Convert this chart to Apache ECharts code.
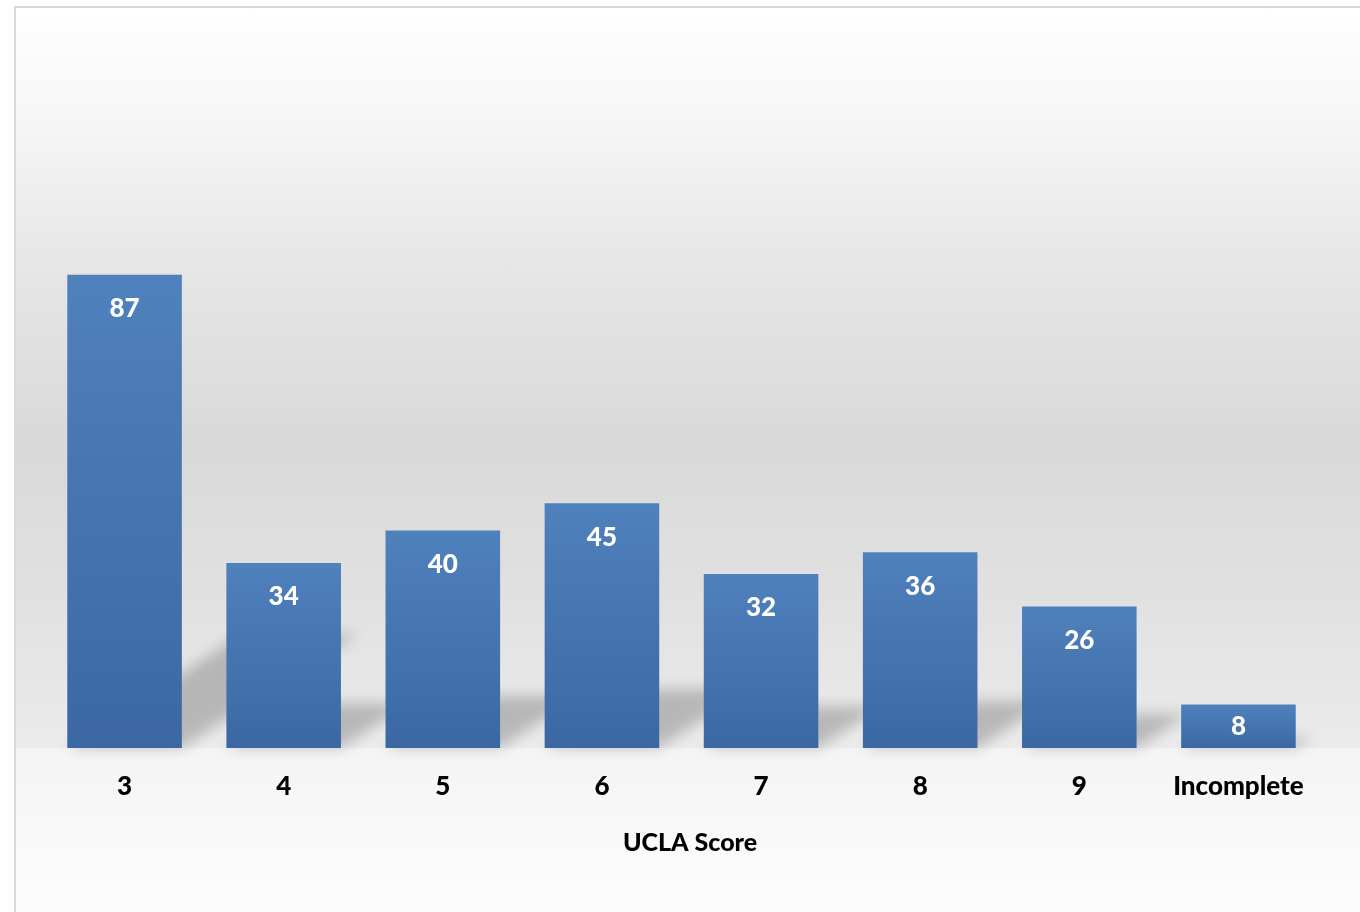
<!DOCTYPE html>
<html>
<head>
<meta charset="utf-8">
<script src="https://cdn.jsdelivr.net/npm/echarts@6/dist/echarts.min.js"></script>
<style>
  html, body { margin: 0; padding: 0; background: #fff; overflow: hidden; }
  #chart {
    position: absolute; left: 14px; top: 6px;
    width: 1346px; height: 906px;
    border-left: 2px solid #d9d9d9; border-top: 2px solid #d9d9d9;
    background: linear-gradient(to bottom,
      #ffffff 0px, #f8f8f8 92px, #e7e7e7 250px, #d9d9d9 432px,
      #e1e1e1 592px, #ebebeb 739px, #f4f4f4 741px, #fdfdfd 906px);
  }
</style>
</head>
<body>
<div id="chart"></div>
<script>
const categories = ['3', '4', '5', '6', '7', '8', '9', 'Incomplete']
const counts     = [87, 34, 40, 45, 32, 36, 26, 8]
const axisTitle  = 'UCLA Score'

const FONT = 'Lato, "Open Sans", sans-serif'
const BAR_SHARE = 0.72

const chart = echarts.init(document.getElementById('chart'), null, { renderer: 'canvas' })

// perspective shadow: the bar's footprint thrown up and to the right behind it
function shadowItem(params, api) {
  const idx = api.value(0)
  const base = api.coord([idx, 0])
  const top = api.coord([idx, api.value(1)])
  const bw = api.size([1, 0])[0] * BAR_SHARE
  const rise = (base[1] - top[1]) * 0.24
  const run = rise / 0.65
  const x0 = base[0] - bw / 2, x1 = base[0] + bw / 2, y0 = base[1]
  const off = 4000
  return {
    type: 'polygon',
    silent: true,
    shape: { points: [[x0 - off, y0], [x1 - off, y0], [x1 + run - off, y0 - rise], [x0 + run - off, y0 - rise]] },
    style: { fill: '#000', shadowBlur: 14, shadowColor: 'rgba(0,0,0,0.21)', shadowOffsetX: off }
  }
}

// short bars get their label centred instead of hung from the top
const barData = counts.map(v => v < 15 ? { value: v, label: { position: 'inside' } } : v)

const textStyle = { fontFamily: FONT, fontWeight: 900, fontSize: 26 }

chart.setOption({
  backgroundColor: 'transparent',
  animation: false,
  grid: { left: 29, right: 44, top: 196, bottom: 166 },
  xAxis: {
    type: 'category',
    data: categories,
    axisLine: { show: false },
    axisTick: { show: false },
    axisLabel: { ...textStyle, color: '#000', margin: 26, interval: 0 },
    name: axisTitle,
    nameLocation: 'middle',
    nameGap: 82,
    nameTextStyle: { ...textStyle, color: '#000', fontSize: 25, padding: [0, 0, 0, 17] }
  },
  yAxis: { type: 'value', min: 0, max: 100, show: false, splitLine: { show: false } },
  series: [
    {
      type: 'custom',
      clip: false,
      silent: true,
      z: 1,
      renderItem: shadowItem,
      data: counts.map((v, i) => [i, v])
    },
    {
      type: 'bar',
      z: 2,
      silent: true,
      data: barData,
      barWidth: (BAR_SHARE * 100) + '%',
      itemStyle: {
        color: new echarts.graphic.LinearGradient(0, 0, 0, 1, [
          { offset: 0, color: '#4f81bd' },
          { offset: 1, color: '#3b68a2' }
        ])
      },
      label: {
        ...textStyle,
        show: true,
        position: 'insideTop',
        distance: 21,
        color: '#fff'
      }
    }
  ]
})
</script>
</body>
</html>
